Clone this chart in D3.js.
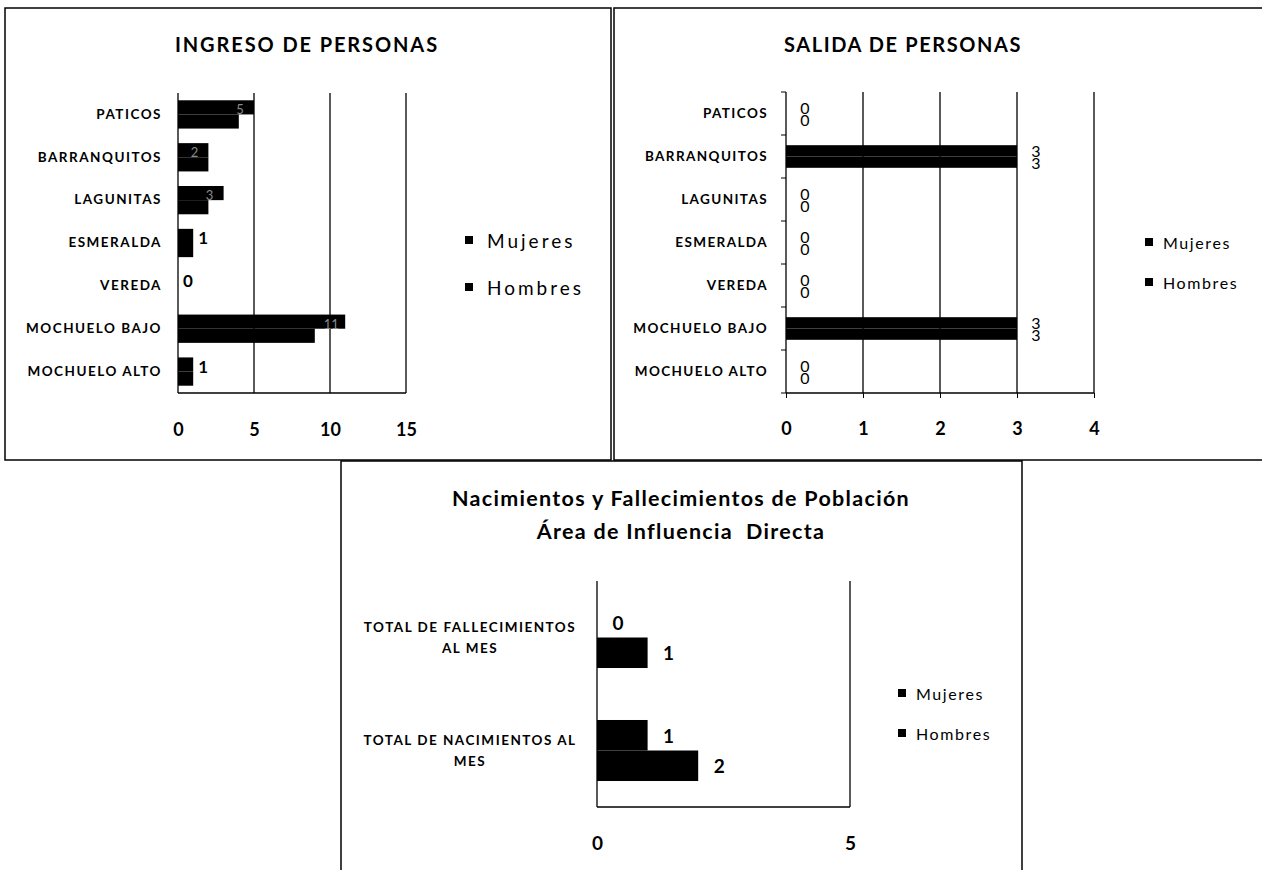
<!DOCTYPE html>
<html>
<head>
<meta charset="utf-8">
<script src="https://cdn.jsdelivr.net/npm/d3@7"></script>
<style>
  body { margin: 0; background: #fff; }
  svg text { font-family: Lato, "Open Sans", sans-serif; fill: #000; }
</style>
</head>
<body>
<svg width="1262" height="870"></svg>
<script>
// data
const veredas = ['PATICOS', 'BARRANQUITOS', 'LAGUNITAS', 'ESMERALDA', 'VEREDA', 'MOCHUELO BAJO', 'MOCHUELO ALTO'];
const ingresoMujeres = [5, 2, 3, 1, 0, 11, 1];
const ingresoHombres = [4, 2, 2, 1, 0, 9, 1];
const ingresoTicks = [0, 5, 10, 15];

const salidaMujeres = [0, 3, 0, 0, 0, 3, 0];
const salidaHombres = [0, 3, 0, 0, 0, 3, 0];
const salidaTicks = [0, 1, 2, 3, 4];

const eventos = [['TOTAL DE FALLECIMIENTOS', 'AL MES'], ['TOTAL DE NACIMIENTOS AL', 'MES']];
const eventosMujeres = [0, 1];
const eventosHombres = [1, 2];
const eventosTicks = [0, 5];

const series = ['Mujeres', 'Hombres'];

const svg = d3.select('svg');

// panel frames
svg.append('rect').attr('x', 5).attr('y', 8).attr('width', 606).attr('height', 452)
    .attr('fill', '#fff').attr('stroke', '#000').attr('stroke-width', 1.5);
svg.append('rect').attr('x', 614).attr('y', 8).attr('width', 700).attr('height', 452)
    .attr('fill', '#fff').attr('stroke', '#000').attr('stroke-width', 1.5);
svg.append('rect').attr('x', 341).attr('y', 461).attr('width', 681).attr('height', 430)
    .attr('fill', '#fff').attr('stroke', '#000').attr('stroke-width', 1.5);

function drawChart(o) {
    const g = svg.append('g');
    const x = d3.scaleLinear().domain([o.ticks[0], o.ticks[o.ticks.length - 1]]).range(o.xRange);
    const y = d3.scaleBand().domain(d3.range(o.cats.length)).range(o.yRange);
    const bh = y.bandwidth() * o.barFrac;
    const mid = i => y(i) + y.bandwidth() / 2;

    // title
    g.append('text').attr('x', o.title.x).attr('y', o.title.y)
        .attr('text-anchor', 'middle').attr('font-weight', 'bold')
        .attr('font-size', o.title.size).attr('letter-spacing', o.title.spacing)
        .style('white-space', 'pre')
        .selectAll('tspan').data(o.title.lines).join('tspan')
        .attr('x', o.title.x).attr('dy', (d, i) => i ? o.title.lead : 0)
        .text(d => d);

    // vertical grid lines (0 is the axis)
    g.selectAll('line.grid').data(o.ticks).join('line').attr('class', 'grid')
        .attr('x1', d => x(d)).attr('x2', d => x(d))
        .attr('y1', o.yRange[0]).attr('y2', o.yRange[1])
        .attr('stroke', '#000').attr('stroke-width', 1.3);
    g.append('line')
        .attr('x1', o.xRange[0]).attr('x2', o.xRange[1])
        .attr('y1', o.yRange[1]).attr('y2', o.yRange[1])
        .attr('stroke', '#000').attr('stroke-width', 1.5);

    if (o.catTicks) {
        g.selectAll('line.ct').data(d3.range(o.cats.length + 1)).join('line').attr('class', 'ct')
            .attr('x1', x(0) - 5).attr('x2', x(0))
            .attr('y1', i => i < o.cats.length ? y(i) : o.yRange[1])
            .attr('y2', i => i < o.cats.length ? y(i) : o.yRange[1])
            .attr('stroke', '#000');
    }

    // bars: Mujeres above, Hombres below within each category
    const rows = o.cats.map((c, i) => ({i: i, m: o.mujeres[i], h: o.hombres[i]}));
    g.selectAll('rect.m').data(rows).join('rect').attr('class', 'm')
        .attr('x', x(0)).attr('y', d => mid(d.i) - bh)
        .attr('width', d => x(d.m) - x(0)).attr('height', bh).attr('fill', '#000');
    g.selectAll('rect.h').data(rows).join('rect').attr('class', 'h')
        .attr('x', x(0)).attr('y', d => mid(d.i))
        .attr('width', d => x(d.h) - x(0)).attr('height', bh).attr('fill', '#000');

    // value labels
    o.labels(g, rows, x, mid, bh);

    // x axis tick labels
    const xa = g.append('g').attr('transform', `translate(0,${o.yRange[1]})`)
        .call(d3.axisBottom(x).tickValues(o.ticks).tickFormat(d3.format('d'))
            .tickSize(o.xTickSize).tickPadding(o.xPad));
    xa.attr('font-family', null).attr('font-size', o.tickFont).attr('font-weight', 'bold');
    xa.select('.domain').remove();
    xa.selectAll('line').attr('stroke', '#000');

    // category labels
    if (o.multiLine) {
        g.selectAll('text.cat').data(o.cats).join('text').attr('class', 'cat')
            .attr('text-anchor', 'middle').attr('font-weight', 'bold')
            .attr('font-size', o.catFont).attr('letter-spacing', o.catSpacing)
            .each(function (lines, i) {
                d3.select(this).selectAll('tspan').data(lines).join('tspan')
                    .attr('x', o.catX)
                    .attr('y', (d, k) => mid(i) + (k - (lines.length - 1) / 2) * 21)
                    .attr('dominant-baseline', 'central')
                    .text(d => d);
            });
    } else {
        const ya = g.append('g').attr('transform', `translate(${x(0)},0)`)
            .call(d3.axisLeft(y).tickSize(0).tickPadding(o.catPad).tickFormat(i => o.cats[i]));
        ya.attr('font-family', null).attr('font-size', o.catFont)
            .attr('font-weight', 'bold').attr('letter-spacing', o.catSpacing);
        ya.select('.domain').remove();
    }

    // legend
    const lg = g.append('g');
    series.forEach((s, k) => {
        const cy = o.legend.y[k];
        lg.append('rect').attr('x', o.legend.x).attr('y', cy - o.legend.box / 2)
            .attr('width', o.legend.box).attr('height', o.legend.box).attr('fill', '#000');
        lg.append('text').attr('x', o.legend.x + o.legend.box + o.legend.gap).attr('y', cy)
            .attr('dominant-baseline', 'central').attr('font-size', o.legend.size)
            .attr('letter-spacing', o.legend.spacing).text(s);
    });
}

drawChart({
    cats: veredas, mujeres: ingresoMujeres, hombres: ingresoHombres, ticks: ingresoTicks,
    xRange: [178, 406], yRange: [93, 393], barFrac: 0.33,
    title: {x: 307, y: 52, size: 20, spacing: 1.9, lead: 0, lines: ['INGRESO DE PERSONAS']},
    xTickSize: 0, xPad: 30, tickFont: 18,
    catPad: 16, catFont: 13.5, catSpacing: 1.5,
    legend: {x: 465, y: [240, 287], box: 8, gap: 14, size: 19, spacing: 3},
    labels: (g, rows, x, mid, bh) => {
        g.selectAll('text.val').data(rows).join('text').attr('class', 'val')
            .attr('y', d => mid(d.i) - bh / 2 + 2)
            .attr('dominant-baseline', 'central')
            .each(function (d) {
                const inside = x(d.m) - x(0) > 25;
                d3.select(this)
                    .attr('x', inside ? x(d.m) - 14 : x(d.m) + 5)
                    .attr('text-anchor', inside ? 'middle' : 'start')
                    .attr('font-size', inside ? 13 : 17)
                    .attr('font-weight', inside ? 'normal' : 'bold')
                    .style('fill', inside ? '#8a8a8a' : '#000');
            })
            .text(d => d.m);
    }
});

drawChart({
    cats: veredas, mujeres: salidaMujeres, hombres: salidaHombres, ticks: salidaTicks,
    xRange: [786, 1094], yRange: [92, 393], barFrac: 0.263, catTicks: true,
    title: {x: 903, y: 52, size: 20, spacing: 1.6, lead: 0, lines: ['SALIDA DE PERSONAS']},
    xTickSize: 5, xPad: 24, tickFont: 18,
    catPad: 18, catFont: 13.5, catSpacing: 1.4,
    legend: {x: 1145, y: [242, 282], box: 8, gap: 10, size: 16, spacing: 1.6},
    labels: (g, rows, x, mid, bh) => {
        const vals = rows.flatMap(d => [{v: d.m, y: mid(d.i) - 6.2}, {v: d.h, y: mid(d.i) + 6.2}]);
        g.selectAll('text.val').data(vals).join('text').attr('class', 'val')
            .attr('x', d => x(d.v) + 19).attr('y', d => d.y)
            .attr('text-anchor', 'middle').attr('dominant-baseline', 'central')
            .attr('font-size', 16).text(d => d.v);
    }
});

drawChart({
    cats: eventos, mujeres: eventosMujeres, hombres: eventosHombres, ticks: eventosTicks,
    xRange: [597, 850], yRange: [581, 807], barFrac: 0.27, multiLine: true,
    title: {x: 681, y: 506, size: 21.5, spacing: 1.3, lead: 33,
        lines: ['Nacimientos y Fallecimientos de Población', 'Área de Influencia  Directa']},
    xTickSize: 0, xPad: 30, tickFont: 19,
    catX: 470, catFont: 13.5, catSpacing: 1.5,
    legend: {x: 898, y: [693, 733], box: 8, gap: 10, size: 16, spacing: 1.6},
    labels: (g, rows, x, mid, bh) => {
        const vals = rows.flatMap(d => [{v: d.m, y: mid(d.i) - bh / 2}, {v: d.h, y: mid(d.i) + bh / 2}]);
        g.selectAll('text.val').data(vals).join('text').attr('class', 'val')
            .attr('x', d => x(d.v) + 21).attr('y', d => d.y)
            .attr('text-anchor', 'middle').attr('dominant-baseline', 'central')
            .attr('font-size', 19).attr('font-weight', 'bold').text(d => d.v);
    }
});
</script>
</body>
</html>
